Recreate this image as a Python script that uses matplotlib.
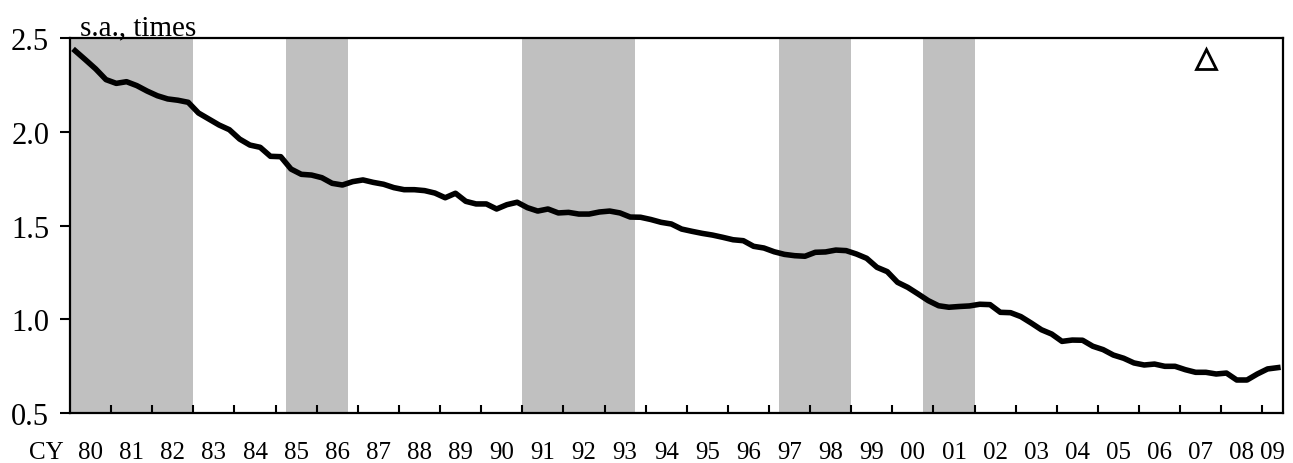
"""Quarterly ratio (s.a., times), CY1980Q1-2009Q2, with recession bands shaded."""
import matplotlib
matplotlib.use("Agg")
import matplotlib.pyplot as plt

plt.rcParams["font.family"] = ["Liberation Serif", "DejaVu Serif"]

START_YEAR = 1980
# quarterly values from 1980Q1
ratio = [
    2.432, 2.384, 2.335, 2.278, 2.258, 2.267, 2.246, 2.217, 2.192, 2.175,
    2.168, 2.157, 2.100, 2.068, 2.036, 2.011, 1.961, 1.929, 1.917, 1.869,
    1.867, 1.801, 1.773, 1.769, 1.755, 1.725, 1.716, 1.734, 1.743, 1.730,
    1.720, 1.702, 1.691, 1.691, 1.686, 1.673, 1.648, 1.672, 1.629, 1.615,
    1.615, 1.588, 1.611, 1.624, 1.595, 1.577, 1.588, 1.567, 1.570, 1.561,
    1.561, 1.572, 1.577, 1.567, 1.545, 1.544, 1.532, 1.517, 1.508, 1.481,
    1.469, 1.458, 1.449, 1.437, 1.424, 1.419, 1.389, 1.380, 1.360, 1.346,
    1.339, 1.336, 1.357, 1.359, 1.369, 1.366, 1.348, 1.325, 1.277, 1.254,
    1.197, 1.170, 1.135, 1.099, 1.072, 1.064, 1.068, 1.071, 1.080, 1.078,
    1.037, 1.035, 1.014, 0.980, 0.944, 0.921, 0.882, 0.889, 0.888, 0.856,
    0.838, 0.809, 0.792, 0.767, 0.756, 0.761, 0.749, 0.749, 0.731, 0.717,
    0.717, 0.708, 0.713, 0.676, 0.676, 0.708, 0.735, 0.742,
]
# shaded periods, (first quarter, last quarter)
recessions = [
    ((1980, 1), (1982, 4)),
    ((1985, 2), (1986, 3)),
    ((1991, 1), (1993, 3)),
    ((1997, 2), (1998, 4)),
    ((2000, 4), (2001, 4)),
]
marker_q = (2007, 3)
marker_val = 2.39
year_labels = [f"{y % 100:02d}" for y in range(1980, 2010)]
y_ticks = [0.5, 1.0, 1.5, 2.0, 2.5]


def qidx(yq):
    return (yq[0] - START_YEAR) * 4 + yq[1] - 1


def main():
    n = len(ratio)
    x = list(range(n))

    fig = plt.figure(figsize=(12.93, 4.64), dpi=100)
    ax = fig.add_axes([70 / 1293, 50 / 464, 1213 / 1293, 375 / 464])

    for a, b in recessions:
        ax.axvspan(qidx(a) - 0.5, qidx(b) + 0.5, color="#c0c0c0", lw=0, zorder=0)
    ax.plot(x, ratio, color="black", lw=4.0, solid_joinstyle="round", zorder=3)
    ax.plot(qidx(marker_q), marker_val, marker="^", ms=14, mfc="white", mec="black", mew=2.0,
            ls="none", zorder=4)

    ax.set_xlim(-0.5, n - 0.5)
    ax.set_ylim(0.5, 2.5)
    ax.set_yticks(y_ticks)
    ax.set_yticklabels([f"{v:.1f}" for v in y_ticks])

    # year boundaries as major ticks, year labels centred in between
    bounds = [4 * k - 0.5 for k in range(1, len(year_labels))]
    centres = [min(4 * k + 1.5, (4 * k - 0.5 + n - 0.5) / 2) for k in range(len(year_labels))]
    ax.set_xticks(bounds)
    ax.set_xticklabels([])
    ax.set_xticks(centres, minor=True)
    ax.set_xticklabels(year_labels, minor=True)
    ax.tick_params(axis="x", which="major", direction="in", length=6, width=1.5)
    ax.tick_params(axis="x", which="minor", length=0, pad=20, labelsize=18)
    ax.tick_params(axis="y", direction="out", length=7, width=1.5, pad=8, labelsize=22)
    for s in ax.spines.values():
        s.set_linewidth(1.6)

    ax.annotate("CY", xy=(-2.75, 0), xycoords=ax.get_xaxis_transform(),
                xytext=(0, -20), textcoords="offset points", ha="center", va="top", fontsize=18)
    fig.text(80 / 1293, 1 - 35 / 464, "s.a., times", fontsize=21, ha="left", va="baseline")

    fig.savefig("out.png", dpi=100)
    plt.close(fig)


if __name__ == "__main__":
    main()
